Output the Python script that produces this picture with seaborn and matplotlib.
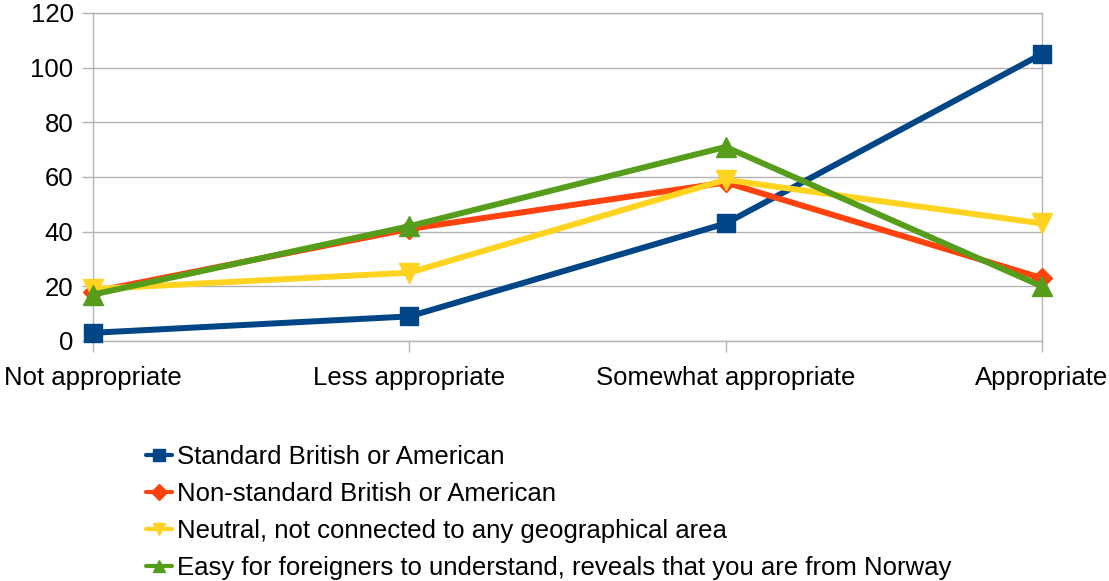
import matplotlib
matplotlib.use("Agg")
import matplotlib.pyplot as plt
from matplotlib.lines import Line2D
import pandas as pd
import seaborn as sns

categories = ["Not appropriate", "Less appropriate", "Somewhat appropriate", "Appropriate"]
series_names = [
    "Standard British or American",
    "Non-standard British or American",
    "Neutral, not connected to any geographical area",
    "Easy for foreigners to understand, reveals that you are from Norway",
]
standard = [3, 9, 43, 105]
non_standard = [18, 41, 58, 23]
neutral = [19, 25, 59, 43]
easy_foreign = [17, 42, 71, 20]
y_ticks = [0, 20, 40, 60, 80, 100, 120]

colors = ["#004586", "#ff420e", "#ffd320", "#579d1c"]
markers = ["s", "D", "v", "^"]
msizes = [13, 10, 14, 14]

sns.set_theme(style="white")
plt.rcParams["font.family"] = ["Liberation Sans", "DejaVu Sans"]
plt.rcParams["text.color"] = "black"

rows = []
for name, vals in zip(series_names, [standard, non_standard, neutral, easy_foreign]):
    for i, v in enumerate(vals):
        rows.append({"category": i, "value": v, "series": name})
df = pd.DataFrame(rows)

fig = plt.figure(figsize=(11.09, 5.81), dpi=100)
ax = fig.add_axes([93 / 1109, 1 - 341 / 581, (1042 - 93) / 1109, (341 - 13) / 581])

for name, col, mk, ms in zip(series_names, colors, markers, msizes):
    sub = df[df["series"] == name]
    sns.lineplot(data=sub, x="category", y="value", ax=ax, color=col, lw=4.3,
                 marker=mk, markersize=ms, markeredgecolor=col, markeredgewidth=1,
                 clip_on=False, legend=False, zorder=3)

ax.set_xlim(0, 3)
ax.set_ylim(0, 120)
ax.set_yticks(y_ticks)
ax.set_xticks(range(len(categories)))
ax.set_xticklabels(categories)
ax.set_xlabel("")
ax.set_ylabel("")
ax.yaxis.grid(True, color="#b3b3b3", lw=1)
ax.xaxis.grid(False)
for s in ax.spines.values():
    s.set_color("#b3b3b3")
    s.set_linewidth(1)
ax.tick_params(axis="both", which="major", length=8, width=1, color="#b3b3b3",
               direction="out", labelsize=18.5, labelcolor="black")
ax.tick_params(axis="y", pad=6)
ax.tick_params(axis="x", pad=10)
ax.tick_params(left=True, bottom=True)

handles = [Line2D([0], [0], color=c, lw=3, marker=m, markersize=8,
                  markeredgecolor=c) for c, m in zip(colors, markers)]
fig.legend(handles, series_names, loc="upper left",
           bbox_to_anchor=(146 / 1109, 1 - 445 / 581), frameon=False,
           fontsize=18.5, handlelength=1.0, handletextpad=0.2,
           labelspacing=0.5, borderaxespad=0, borderpad=0, labelcolor="black")

fig.savefig("out.png", dpi=100, facecolor="white")
